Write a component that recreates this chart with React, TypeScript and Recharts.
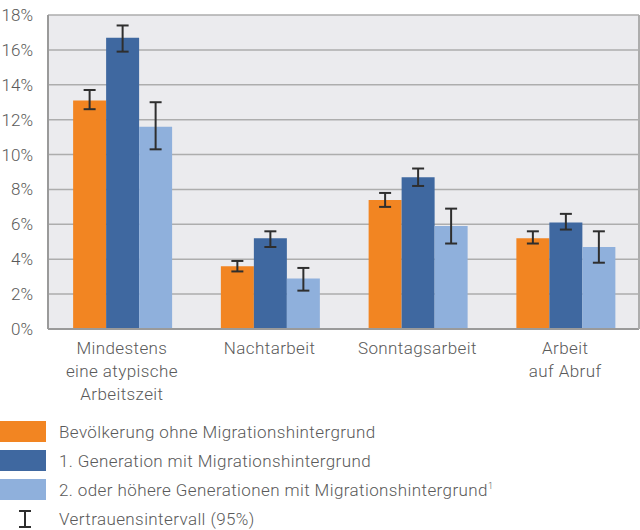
import { Bar, BarChart, CartesianGrid, ErrorBar, XAxis, YAxis } from 'recharts'

const categories = [
  'Mindestens\neine atypische\nArbeitszeit',
  'Nachtarbeit',
  'Sonntagsarbeit',
  'Arbeit\nauf Abruf'
]

const ohne = [13.1, 3.6, 7.4, 5.2]
const ohneLow = [12.6, 3.3, 7.0, 4.9]
const ohneHigh = [13.7, 3.9, 7.8, 5.6]

const gen1 = [16.7, 5.2, 8.7, 6.1]
const gen1Low = [15.9, 4.7, 8.2, 5.7]
const gen1High = [17.4, 5.6, 9.2, 6.6]

const gen2 = [11.6, 2.9, 5.9, 4.7]
const gen2Low = [10.3, 2.2, 4.9, 3.8]
const gen2High = [13.0, 3.5, 6.9, 5.6]

const yTicks = [0, 2, 4, 6, 8, 10, 12, 14, 16, 18]

const legendItems = [
  { label: 'Bevölkerung ohne Migrationshintergrund', color: '#F28522' },
  { label: '1. Generation mit Migrationshintergrund', color: '#3F68A0' },
  { label: '2. oder höhere Generationen mit Migrationshintergrund', color: '#8FB0DC', note: '1' }
]

const data = categories.map((name, i) => ({
  name,
  ohne: ohne[i],
  ohneErr: [ohne[i] - ohneLow[i], ohneHigh[i] - ohne[i]],
  gen1: gen1[i],
  gen1Err: [gen1[i] - gen1Low[i], gen1High[i] - gen1[i]],
  gen2: gen2[i],
  gen2Err: [gen2[i] - gen2Low[i], gen2High[i] - gen2[i]]
}))

const font = 'Roboto, sans-serif'
const textColor = '#5A5A5A'

function CategoryTick({ x, y, payload }: any) {
  const lines = String(payload.value).split('\n')
  return (
    <text
      x={x}
      y={y}
      textAnchor="middle"
      fill={textColor}
      fontSize={17}
      fontWeight={300}
      fontFamily={font}
      letterSpacing={0.4}
    >
      {lines.map((l, i) => (
        <tspan key={i} x={x} dy={i === 0 ? 25 : 23}>
          {l}
        </tspan>
      ))}
    </text>
  )
}

const errProps = { width: 6, strokeWidth: 2, stroke: '#2E2E2E', direction: 'y' as const }

export default function App() {
  return (
    <div style={{ position: 'absolute', left: 0, top: 0, width: 640, height: 530, fontFamily: font, background: '#fff' }}>
      <BarChart
        width={640}
        height={410}
        data={data}
        margin={{ top: 15, right: 0, bottom: 0, left: 0 }}
        barCategoryGap="17%"
        barGap={0}
      >
        <CartesianGrid vertical={false} fill="#EBEBEE" stroke="#ADADAD" strokeWidth={1.5} />
        <XAxis
          dataKey="name"
          interval={0}
          height={81}
          tickLine={false}
          tickSize={0}
          tickMargin={0}
          axisLine={{ stroke: '#9A9A9A', strokeWidth: 2 }}
          tick={<CategoryTick />}
        />
        <YAxis
          width={48}
          domain={[0, 18]}
          ticks={yTicks}
          interval={0}
          tickFormatter={(v: number) => `${v}%`}
          tickLine={false}
          tickSize={0}
          tickMargin={15}
          axisLine={{ stroke: '#9A9A9A', strokeWidth: 2 }}
          tick={{ fill: textColor, fontSize: 17, fontWeight: 300, fontFamily: font }}
        />
        <YAxis
          yAxisId="right"
          orientation="right"
          width={1}
          domain={[0, 18]}
          tick={false}
          tickLine={false}
          axisLine={{ stroke: '#ADADAD', strokeWidth: 2 }}
        />
        <Bar dataKey="ohne" fill="#F28522" isAnimationActive={false}>
          <ErrorBar dataKey="ohneErr" {...errProps} />
        </Bar>
        <Bar dataKey="gen1" fill="#3F68A0" isAnimationActive={false}>
          <ErrorBar dataKey="gen1Err" {...errProps} />
        </Bar>
        <Bar dataKey="gen2" fill="#8FB0DC" isAnimationActive={false}>
          <ErrorBar dataKey="gen2Err" {...errProps} />
        </Bar>
      </BarChart>
      <div
        style={{
          position: 'absolute',
          left: 0,
          top: 421,
          color: textColor,
          fontSize: 17,
          fontWeight: 300,
          letterSpacing: 0.4
        }}
      >
        {legendItems.map((it) => (
          <div key={it.label} style={{ display: 'flex', alignItems: 'center', height: 21, marginBottom: 8 }}>
            <div style={{ width: 46, height: 21, background: it.color, flex: 'none' }} />
            <span style={{ marginLeft: 13, whiteSpace: 'nowrap' }}>
              {it.label}
              {it.note && <sup style={{ fontSize: 9, verticalAlign: 'super' }}>{it.note}</sup>}
            </span>
          </div>
        ))}
        <div style={{ display: 'flex', alignItems: 'center', height: 21 }}>
          <svg width={46} height={21} style={{ flex: 'none' }}>
            <line x1={19} x2={31} y1={3} y2={3} stroke="#2E2E2E" strokeWidth={2} />
            <line x1={25} x2={25} y1={3} y2={19} stroke="#2E2E2E" strokeWidth={2} />
            <line x1={19} x2={31} y1={19} y2={19} stroke="#2E2E2E" strokeWidth={2} />
          </svg>
          <span style={{ marginLeft: 13, whiteSpace: 'nowrap' }}>Vertrauensintervall (95%)</span>
        </div>
      </div>
    </div>
  )
}
